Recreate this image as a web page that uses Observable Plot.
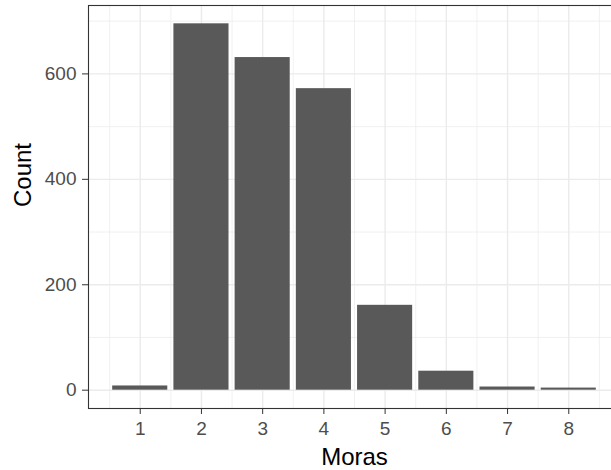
<!DOCTYPE html>
<html>
<head>
<meta charset="utf-8">
<script src="https://cdn.jsdelivr.net/npm/d3@7"></script>
<script src="https://cdn.jsdelivr.net/npm/@observablehq/plot@0.6"></script>
<style>
  body { margin: 0; background: #fff; }
  svg { font-family: "Liberation Sans", Arial, sans-serif; }
</style>
</head>
<body>
<div id="chart"></div>
<script>
const moras = [1, 2, 3, 4, 5, 6, 7, 8];
const counts = [8, 695, 631, 572, 161, 36, 6, 4];
const xTicks = [1, 2, 3, 4, 5, 6, 7, 8];
const xMinor = [0.5, 1.5, 2.5, 3.5, 4.5, 5.5, 6.5, 7.5, 8.5];
const yTicks = [0, 200, 400, 600];
const yMinor = [100, 300, 500, 700];

const data = moras.map((m, i) => ({moras: m, count: counts[i]}));
const maxC = d3.max(counts);
const xlo = 0.55, xhi = 8.45, xe = (xhi - xlo) * 0.05;

const chart = Plot.plot({
  width: 611,
  height: 470,
  marginLeft: 88,
  marginRight: -9,
  marginTop: 5,
  marginBottom: 62,
  style: {fontFamily: "Liberation Sans, Arial, sans-serif", background: "#fff", overflow: "visible"},
  x: {domain: [xlo - xe, xhi + xe], axis: null},
  y: {domain: [-maxC * 0.05, maxC * 1.05], axis: null},
  marks: [
    Plot.ruleX(xMinor, {stroke: "#EBEBEB", strokeWidth: 0.7}),
    Plot.ruleY(yMinor, {stroke: "#EBEBEB", strokeWidth: 0.7}),
    Plot.ruleX(xTicks, {stroke: "#EBEBEB", strokeWidth: 1.4}),
    Plot.ruleY(yTicks, {stroke: "#EBEBEB", strokeWidth: 1.4}),
    Plot.rectY(data, {x1: d => d.moras - 0.45, x2: d => d.moras + 0.45, y1: 0, y2: "count", fill: "#595959"}),
    Plot.frame({stroke: "#333333", strokeWidth: 1.1}),
    Plot.axisX(xTicks, {tickSize: 6, tickPadding: 7, stroke: "#333333", fill: "#4D4D4D", fontSize: 19, label: null, tickFormat: d => String(d)}),
    Plot.axisY(yTicks, {tickSize: 6, tickPadding: 6, stroke: "#333333", fill: "#4D4D4D", fontSize: 19, label: null, tickFormat: d => String(d)}),
    Plot.text(["Moras"], {frameAnchor: "bottom", dy: 48.6, fontSize: 24, fill: "#000", lineAnchor: "middle"}),
    Plot.text(["Count"], {frameAnchor: "left", dx: -65, rotate: -90, fontSize: 24, fill: "#000", lineAnchor: "middle"})
  ]
});
d3.select(chart).selectAll("g[aria-label$='tick label']").attr("font-size", 19).style("font-size", "19px")
  .selectAll("text").attr("font-size", 19);
document.getElementById("chart").appendChild(chart);
</script>
</body>
</html>
